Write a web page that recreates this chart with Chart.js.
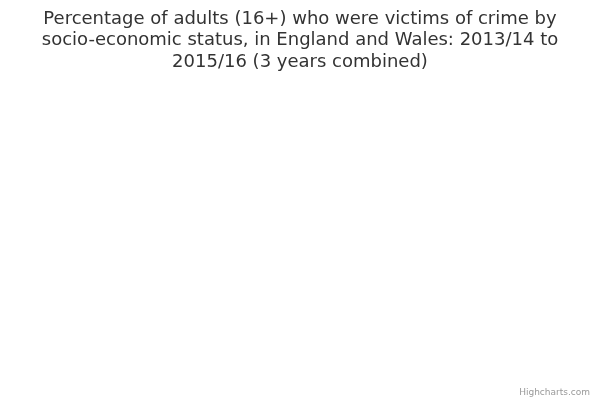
<!DOCTYPE html>
<html>
<head>
<meta charset="utf-8">
<script src="https://cdn.jsdelivr.net/npm/chart.js@4/dist/chart.umd.min.js"></script>
<style>
html,body{margin:0;padding:0;background:#fff;}
#wrap{width:600px;height:400px;position:relative;}
</style>
</head>
<body>
<div id="wrap"><canvas id="c"></canvas></div>
<script>
const titleLines = [
  "Percentage of adults (16+) who were victims of crime by",
  "socio-economic status, in England and Wales: 2013/14 to",
  "2015/16 (3 years combined)"
];
const creditText = "Highcharts.com";
const categories = [];
const seriesValues = [];

const creditPlugin = {
  id: 'credit',
  afterDraw(chart) {
    const ctx = chart.ctx;
    ctx.save();
    ctx.font = 'normal 9px "DejaVu Sans"';
    ctx.fillStyle = '#999999';
    ctx.textAlign = 'right';
    ctx.textBaseline = 'alphabetic';
    ctx.fillText(creditText, chart.width - 10, chart.height - 5);
    ctx.restore();
  }
};

new Chart(document.getElementById('c'), {
  type: 'bar',
  data: {
    labels: categories,
    datasets: [{ label: 'Victims (%)', data: seriesValues, backgroundColor: '#7cb5ec' }]
  },
  options: {
    responsive: true,
    maintainAspectRatio: false,
    animation: false,
    layout: { padding: 0 },
    scales: { x: { display: false }, y: { display: false } },
    plugins: {
      legend: { display: false },
      tooltip: { enabled: false },
      title: {
        display: true,
        text: titleLines,
        color: '#333333',
        font: { family: 'DejaVu Sans', size: 18, weight: 'normal', lineHeight: 1.19 },
        padding: { top: 8.5, bottom: 10 }
      }
    }
  },
  plugins: [creditPlugin]
});
</script>
</body>
</html>
